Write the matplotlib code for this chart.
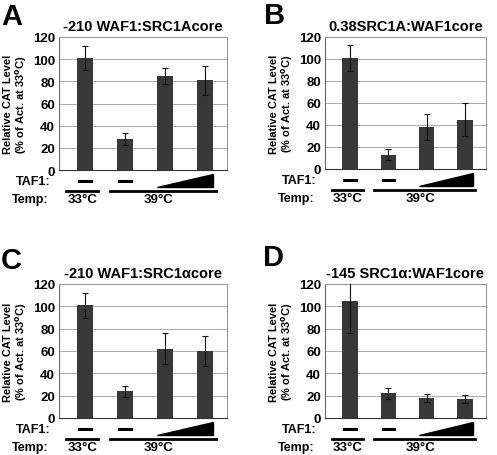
import matplotlib
matplotlib.use("Agg")
import matplotlib.pyplot as plt
from matplotlib.patches import Polygon
from matplotlib.lines import Line2D
import matplotlib.transforms as mtransforms

plt.rcParams['font.family'] = ['Liberation Sans', 'DejaVu Sans']
plt.rcParams['font.weight'] = 'bold'

# data
titles = ["-210 WAF1:SRC1Acore", "0.38SRC1A:WAF1core",
          "-210 WAF1:SRC1\u03b1core", "-145 SRC1\u03b1:WAF1core"]
letters = ["A", "B", "C", "D"]
values_a = [101, 28, 85, 81]
errors_a = [11, 5, 7, 13]
values_b = [101, 13, 38, 45]
errors_b = [12, 5, 12, 15]
values_c = [101, 24, 62, 60]
errors_c = [11, 5, 14, 13]
values_d = [105, 22, 18, 17]
errors_d = [29, 5, 3.5, 4]
yticks = [0, 20, 40, 60, 80, 100, 120]

W, H = 497, 456
fig = plt.figure(figsize=(W / 100, H / 100), dpi=100)

# axes boxes in pixels: left, top, right, bottom
boxes = [(59, 38, 227, 171), (325, 38, 486, 170),
         (59, 285, 227, 419), (325, 285, 486, 419)]
letter_pos = [(1, 25), (264, 24), (1, 269), (263, 266)]
all_vals = [values_a, values_b, values_c, values_d]
all_errs = [errors_a, errors_b, errors_c, errors_d]

for i in range(4):
    l, t, r, b = boxes[i]
    ax = fig.add_axes([l / W, 1 - b / H, (r - l) / W, (b - t) / H])
    hpx = b - t
    x = [0, 1, 2, 3]
    ax.bar(x, all_vals[i], width=0.4, color='#383838', zorder=3)
    ax.errorbar(x, all_vals[i], yerr=all_errs[i], fmt='none', ecolor='#111111',
                elinewidth=0.8, capsize=2, capthick=0.8, zorder=4)
    ax.set_xlim(-0.65, 3.55)
    ax.set_ylim(0, 120)
    ax.set_yticks(yticks)
    ax.set_yticklabels([str(v) for v in yticks], fontsize=9.5, fontweight='bold')
    ax.tick_params(axis='y', length=0, pad=3)
    ax.set_xticks([])
    ax.yaxis.grid(True, color='#aaaaaa', linewidth=0.7, zorder=0)
    for s in ax.spines.values():
        s.set_color('#999999')
        s.set_linewidth(0.8)
    ax.spines['left'].set_color('#666666')
    ax.spines['bottom'].set_color('#333333')
    ax.set_title(titles[i], fontsize=10.5, fontweight='bold', pad=5)
    ax.set_ylabel("Relative CAT Level\n(% of Act. at 33$^{\\mathbf{o}}$C)",
                  fontsize=8, fontweight='bold', labelpad=3, linespacing=1.0)

    # annotations below the axes: x in data, y in axes fraction
    tr = mtransforms.blended_transform_factory(ax.transData, ax.transAxes)
    tr_ax = ax.transAxes

    def fy(px):
        return -px / hpx

    ax.text(-8 / (r - l), fy(14), "TAF1:", transform=tr_ax, ha='right',
            va='baseline', fontsize=9, fontweight='bold', clip_on=False)
    ax.text(-10 / (r - l), fy(32), "Temp:", transform=tr_ax, ha='right',
            va='baseline', fontsize=9, fontweight='bold', clip_on=False)
    for xc in [0, 1]:
        ax.add_line(Line2D([xc - 0.15, xc + 0.15], [fy(11), fy(11)], transform=tr,
                           color='black', linewidth=2.2, clip_on=False))
    wedge = Polygon([[1.8, fy(17)], [3.2, fy(17)], [3.2, fy(4)]], closed=True,
                    transform=tr, facecolor='black', edgecolor='black',
                    clip_on=False)
    ax.add_patch(wedge)
    ax.add_line(Line2D([-0.47, 0.33], [fy(21), fy(21)], transform=tr,
                       color='black', linewidth=2.0, clip_on=False))
    ax.add_line(Line2D([0.63, 3.27], [fy(21), fy(21)], transform=tr,
                       color='black', linewidth=2.0, clip_on=False))
    ax.text(-0.07, fy(32), "33\u00b0C", transform=tr, ha='center', va='baseline',
            fontsize=9.5, fontweight='bold', clip_on=False)
    ax.text(1.85, fy(32), "39\u00b0C", transform=tr, ha='center', va='baseline',
            fontsize=9.5, fontweight='bold', clip_on=False)

    lx, ly = letter_pos[i]
    fig.text(lx / W, 1 - ly / H, letters[i], fontsize=21, fontweight='bold',
             ha='left', va='baseline')

fig.savefig("out.png", dpi=100)
